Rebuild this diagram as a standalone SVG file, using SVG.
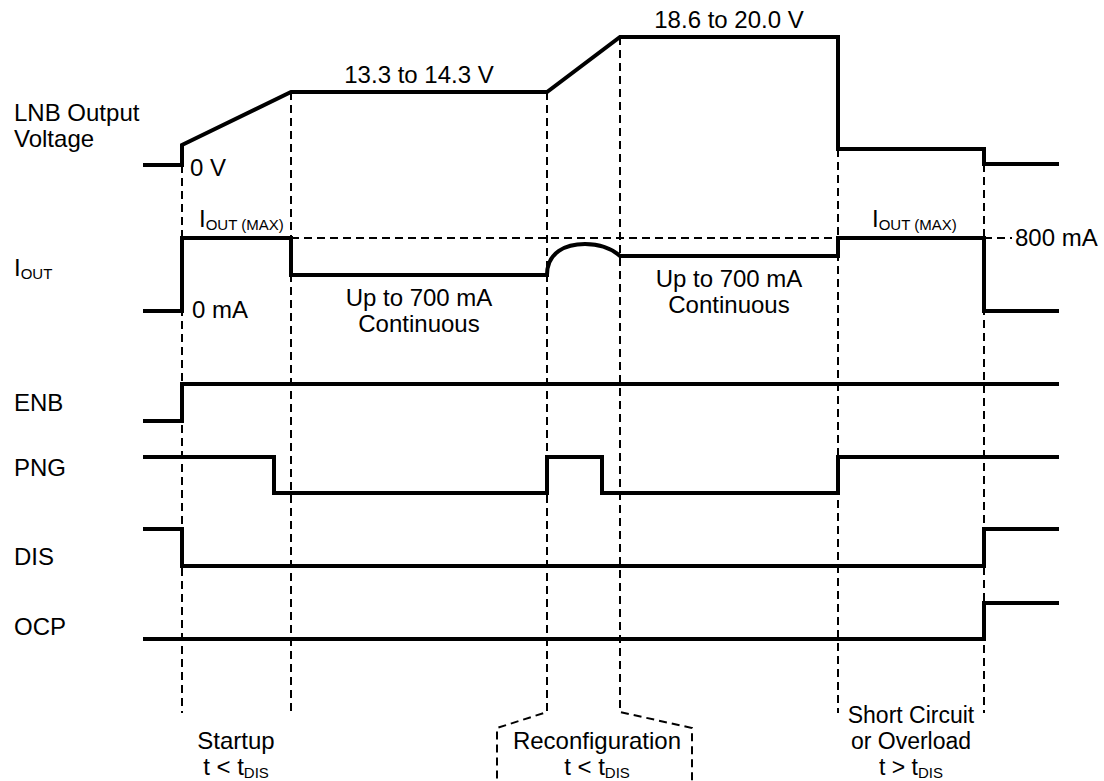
<svg xmlns="http://www.w3.org/2000/svg" width="1104" height="781" viewBox="0 0 1104 781">
<style>
.sig{fill:none;stroke:#000;stroke-width:4;stroke-linejoin:miter;stroke-linecap:butt}
.dash{fill:none;stroke:#000;stroke-width:2;stroke-dasharray:8 5}
text{font-family:"Liberation Sans",Arial,sans-serif;font-size:24px;fill:#000}
.sub{font-size:15px}
.mid{text-anchor:middle}
.sm{font-size:23px}
</style>
<rect width="1104" height="781" fill="#fff"/>
<g id="connectors">
<path class="dash" d="M182,165 V713"/>
<path class="dash" d="M291,92 V713"/>
<path class="dash" d="M547,92 V712 L497,728 V781"/>
<path class="dash" d="M620,37 V712 L692,728 V781"/>
<path class="dash" d="M838,149 V713"/>
<path class="dash" d="M984,164 V713"/>
<path class="dash" d="M291,238 H838 M984,238 H1012"/>
</g>
<g id="lnb-voltage">
<path class="sig" d="M143,165 H182 V145 L291,92 H547 L620,37 H838 V149 H984 V164 H1059"/>
<text x="14" y="121">LNB Output</text>
<text x="14" y="147">Voltage</text>
<text x="190" y="176">0 V</text>
<text class="mid" x="419" y="83">13.3 to 14.3 V</text>
<text class="mid" x="729" y="28">18.6 to 20.0 V</text>
</g>
<g id="iout">
<path class="sig" d="M143,311 H182 V238 H291 V275 H547 C547,252 566,244 585,244 C600,244 611,248 620,256 H838 V238 H984 V311 H1059"/>
<text x="14" y="276">I<tspan class="sub" dy="3">OUT</tspan></text>
<text x="199" y="227">I<tspan class="sub" dy="3">OUT (MAX)</tspan></text>
<text x="872" y="227">I<tspan class="sub" dy="3">OUT (MAX)</tspan></text>
<text x="192" y="318">0 mA</text>
<text x="1015" y="246">800 mA</text>
<text class="mid" x="419" y="306">Up to 700 mA</text>
<text class="mid" x="419" y="332">Continuous</text>
<text class="mid" x="729" y="287">Up to 700 mA</text>
<text class="mid" x="729" y="313">Continuous</text>
</g>
<g id="enb">
<path class="sig" d="M143,421 H182 V384 H1059"/>
<text x="14" y="411">ENB</text>
</g>
<g id="png">
<path class="sig" d="M143,457 H274 V493 H547 V457 H602 V493 H838 V457 H1059"/>
<text x="14" y="476">PNG</text>
</g>
<g id="dis">
<path class="sig" d="M143,529 H182 V566 H984 V529 H1059"/>
<text x="14" y="565">DIS</text>
</g>
<g id="ocp">
<path class="sig" d="M143,639 H984 V603 H1059"/>
<text x="14" y="635">OCP</text>
</g>
<g id="phase-startup">
<text class="mid" x="236" y="749">Startup</text>
<text class="mid" x="236" y="775">t &lt; t<tspan class="sub" dy="3">DIS</tspan></text>
</g>
<g id="phase-reconfiguration">
<text class="mid" x="597" y="749">Reconfiguration</text>
<text class="mid" x="597" y="775">t &lt; t<tspan class="sub" dy="3">DIS</tspan></text>
</g>
<g id="phase-short">
<text class="mid sm" x="911" y="723">Short Circuit</text>
<text class="mid sm" x="911" y="749">or Overload</text>
<text class="mid sm" x="911" y="775">t &gt; t<tspan class="sub" dy="3">DIS</tspan></text>
</g>
</svg>
